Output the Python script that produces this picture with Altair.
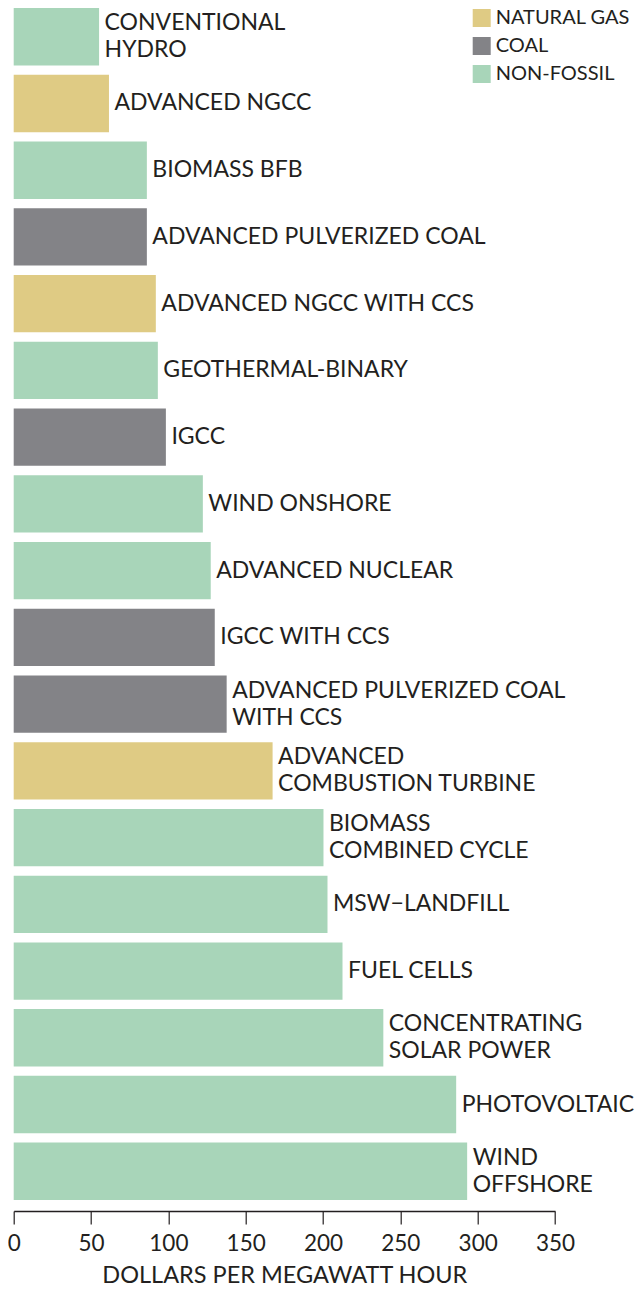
import altair as alt
import pandas as pd

names = [
    "CONVENTIONAL\nHYDRO",
    "ADVANCED NGCC",
    "BIOMASS BFB",
    "ADVANCED PULVERIZED COAL",
    "ADVANCED NGCC WITH CCS",
    "GEOTHERMAL-BINARY",
    "IGCC",
    "WIND ONSHORE",
    "ADVANCED NUCLEAR",
    "IGCC WITH CCS",
    "ADVANCED PULVERIZED COAL\nWITH CCS",
    "ADVANCED\nCOMBUSTION TURBINE",
    "BIOMASS\nCOMBINED CYCLE",
    "MSW\u2212LANDFILL",
    "FUEL CELLS",
    "CONCENTRATING\nSOLAR POWER",
    "PHOTOVOLTAIC",
    "WIND\nOFFSHORE",
]
costs = [55.2, 61.6, 86.1, 86.1, 91.9, 93.2, 98.4, 122.3, 127.4, 130.0,
         137.7, 167.4, 200.3, 202.9, 212.6, 239.0, 286.1, 293.2]
fuel = ["NON-FOSSIL", "NATURAL GAS", "NON-FOSSIL", "COAL", "NATURAL GAS",
        "NON-FOSSIL", "COAL", "NON-FOSSIL", "NON-FOSSIL", "COAL", "COAL",
        "NATURAL GAS", "NON-FOSSIL", "NON-FOSSIL", "NON-FOSSIL", "NON-FOSSIL",
        "NON-FOSSIL", "NON-FOSSIL"]

fuel_types = ["NATURAL GAS", "COAL", "NON-FOSSIL"]
fuel_colors = ["#dfcb84", "#838387", "#a8d5b9"]
tick_values = [0, 50, 100, 150, 200, 250, 300, 350]

df = pd.DataFrame({"name": names, "cost": costs, "fuel": fuel})
df["lines"] = [n.count("\n") + 1 for n in names]

FONT = "Lato"
TXT = "#231f20"

base = alt.Chart(df).encode(
    y=alt.Y("name:N", sort=None, axis=None,
            scale=alt.Scale(paddingInner=0.14, paddingOuter=0))
)

bars = base.mark_bar().encode(
    x=alt.X("cost:Q",
            scale=alt.Scale(domain=[0, 350], nice=False, zero=True),
            axis=alt.Axis(values=tick_values, title="DOLLARS PER MEGAWATT HOUR",
                          grid=False, offset=11, labelFlush=False,
                          domainColor=TXT, domainWidth=1.5,
                          tickColor=TXT, tickWidth=1.2, tickSize=13,
                          labelFont=FONT, labelFontSize=22.5, labelColor=TXT,
                          labelPadding=8,
                          titleFont=FONT, titleFontSize=23.5, titleColor=TXT,
                          titleFontWeight="normal", titlePadding=9)),
    color=alt.Color("fuel:N",
                    scale=alt.Scale(domain=fuel_types, range=fuel_colors),
                    legend=alt.Legend(title=None, orient="none",
                                      legendX=458, legendY=0,
                                      symbolType="square", symbolSize=324,
                                      symbolStrokeWidth=0, symbolOpacity=1,
                                      labelFont=FONT, labelFontSize=20,
                                      labelColor=TXT, labelOffset=4,
                                      rowPadding=8)),
)

text_style = dict(align="left", baseline="middle", dx=5.5, lineBreak="\n",
                  font=FONT, fontSize=23, color=TXT, lineHeight=27)

labels1 = base.transform_filter("datum.lines == 1").mark_text(**text_style).encode(
    x="cost:Q", text="name:N")
labels2 = base.transform_filter("datum.lines == 2").mark_text(dy=-13.5, **text_style).encode(
    x="cost:Q", text="name:N")

chart = (bars + labels1 + labels2).properties(
    width=541.3, height=1192,
    autosize=alt.AutoSizeParams(type="none"),
    padding={"left": 5.7, "top": 0, "right": 81, "bottom": 88},
).configure_view(stroke=None)

chart.save("out.html", embed_options={"renderer": "svg", "actions": False})
